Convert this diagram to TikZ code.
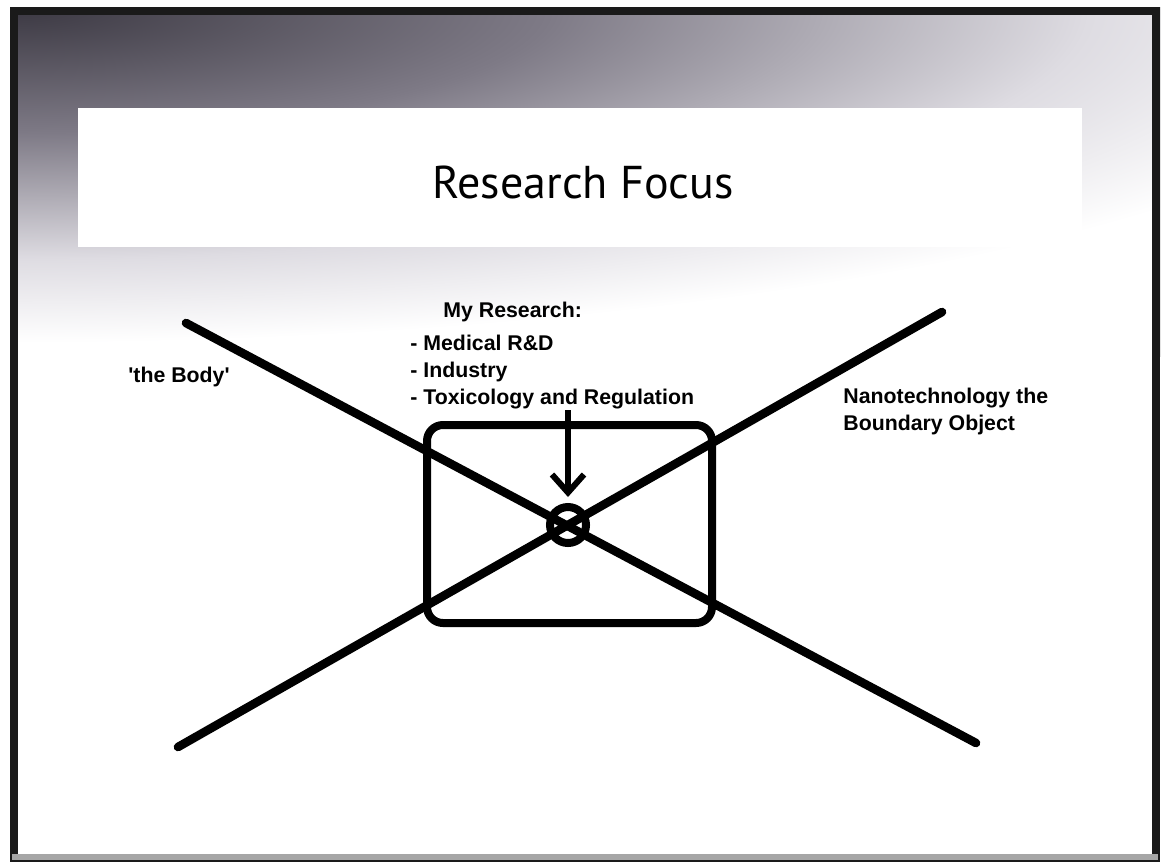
\documentclass[tikz,border=0pt]{standalone}
\usepackage{fontspec}
\setmainfont{Liberation Sans}
\newfontfamily\headfont{PT Sans}
\usetikzlibrary{arrows.meta}
\definecolor{bgdark}{HTML}{3B3842}
\definecolor{bgmid}{HTML}{7E7A86}
\definecolor{bglight}{HTML}{DEDCE2}
\definecolor{rim}{HTML}{1A1A1A}
\pgfdeclareradialshading{noisefade}{\pgfpoint{0bp}{0bp}}{color(0bp)=(bgdark); color(9bp)=(bgmid); color(18bp)=(bglight); color(24bp)=(white); color(50bp)=(white)}
\tikzset{
  lab/.style={font=\bfseries\fontsize{10.65}{13}\selectfont,inner sep=0pt,anchor=base west},
  head/.style={font=\headfont\fontsize{23}{28}\selectfont,inner sep=0pt,anchor=base},
  bar/.style={line width=4.3pt,line cap=round},
  hub/.style={circle,draw,line width=4pt,minimum size=18pt,inner sep=0pt},
  frame/.style={rectangle,draw,line width=4pt,rounded corners=8pt,minimum width=142.5pt,minimum height=99pt},
  arr/.style={-{Straight Barb[length=9pt,width=16pt]},line width=3pt},
}
\begin{document}
\begin{tikzpicture}[x=0.5pt,y=-0.5pt]
\useasboundingbox (0,0) rectangle (1165,863);
% background
\fill[white] (0,0) rectangle (1165,863);
\begin{scope}
\clip (10,7) rectangle (1160,860);
\fill[shading=noisefade] (-1490,-343) rectangle (1510,357);
\end{scope}
\draw[line width=4pt,rim] (14,11) rectangle (1156,858);
\draw[line width=3pt,gray!70] (12,857) -- (1158,857);
% title
\node[fill=white,minimum width=502pt,minimum height=69.5pt,inner sep=0pt] (banner) at (580,177.5) {};
\node[head] (title) at (583,198) {Research Focus};
% the two axes
\coordinate (bodytop) at (186,323);
\coordinate (bodyend) at (976,743);
\coordinate (nanotop) at (942,312);
\coordinate (nanoend) at (178,747);
\draw[bar] (bodytop) -- (bodyend);
\draw[bar] (nanoend) -- (nanotop);
\node[frame] (field) at (569.5,524) {};
\node[hub] (core) at (568,525) {};
% labels
\node[lab] (body) at (128,382) {\textquotesingle the Body\textquotesingle};
\node[lab] (mine) at (443,317) {My Research:};
\node[lab] (med) at (410,350) {- Medical R\&D};
\node[lab] (ind) at (410,377) {- Industry};
\node[lab] (tox) at (410,404) {- Toxicology and Regulation};
\node[lab] (nano) at (843,403) {Nanotechnology the};
\node[lab] (bound) at (843,430) {Boundary Object};
\coordinate (src) at (568,410);
\draw[arr,shorten >=3pt] (src) -- (core);
\end{tikzpicture}
\end{document}
